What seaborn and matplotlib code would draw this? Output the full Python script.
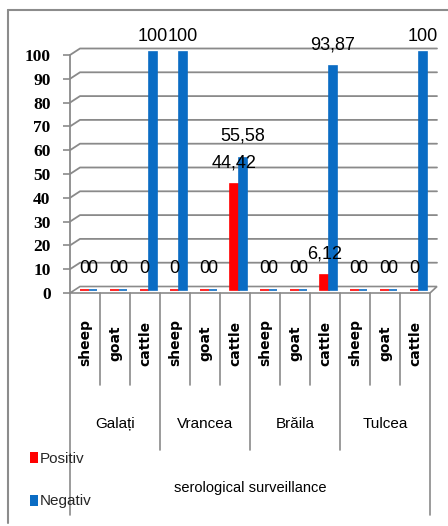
import matplotlib
matplotlib.use("Agg")
import matplotlib.pyplot as plt
from matplotlib.lines import Line2D
from matplotlib.patches import Rectangle, Polygon
import numpy as np
import pandas as pd
import seaborn as sns

# ---- data -------------------------------------------------------------
regions = ["Galați", "Vrancea", "Brăila", "Tulcea"]
species = ["sheep", "goat", "cattle"]
positiv = [0, 0, 0, 0, 0, 44.42, 0, 0, 6.12, 0, 0, 0]
negativ = [0, 0, 100, 100, 0, 55.58, 0, 0, 93.87, 0, 0, 100]
series = ["Positiv", "Negativ"]
y_ticks = list(range(0, 101, 10))
axis_title = "serological surveillance"

colors = {"Positiv": "#FF0000", "Negativ": "#0A6CC4"}
grid_c = "#8A8A8A"

sns.set_theme(style="white")
plt.rcParams["font.family"] = ["Liberation Sans", "DejaVu Sans"]

# ---- layout (pixels) ---------------------------------------------------
W, H = 448, 526
fig = plt.figure(figsize=(W / 100, H / 100), dpi=100)
fig.patch.set_facecolor("white")

x_left, x_right = 70, 440      # plot area, horizontal
y_floor, y_top = 293, 48       # front floor line and back-wall top
cat_px = 30                    # width of one category
unit_px = 2.38                 # pixels per value unit

ax = fig.add_axes([x_left / W, 1 - y_floor / H,
                   (x_right - x_left) / W, (y_floor - y_top) / H])


def frac(ypx):
    """Axes-fraction y for a figure pixel row (below the floor is negative)."""
    return (y_floor - ypx) / (y_floor - y_top)


n = len(positiv)
n_cat = len(species) * len(regions)
pos = np.arange(n) + 0.617
df = pd.DataFrame({
    "pos": np.concatenate([pos, pos]),
    "value": positiv + negativ,
    "status": [series[0]] * n + [series[1]] * n,
})

sns.barplot(data=df, x="pos", y="value", hue="status", hue_order=series,
            palette=colors, native_scale=True, width=0.54, dodge=True,
            errorbar=None, legend=False, saturation=1, ax=ax, zorder=3)

# bars stand in the middle of the floor depth; zero bars show as slivers
depth_lift = 1.3
for p in ax.patches:
    p.set_y(p.get_y() + depth_lift)
    p.set_edgecolor(p.get_facecolor())
    p.set_linewidth(1.2)

ax.set_xlim(0, (x_right - x_left) / cat_px)
ax.set_ylim(0, (y_floor - y_top) / unit_px)
ax.set_xlabel("")
ax.set_ylabel("")
for s in ax.spines.values():
    s.set_visible(False)
ax.grid(False)

# ---- 3-D style walls, floor and gridlines -------------------------------
dx = 10 / cat_px
dy = 6.5 / unit_px
x_back_right = (437 - x_left) / cat_px
floor = Polygon([(0, 0), (n_cat, 0), (x_back_right, dy), (dx, dy)],
                closed=True, facecolor="white", edgecolor=grid_c, lw=1.2,
                zorder=1, clip_on=False)
ax.add_patch(floor)
for v in y_ticks[1:]:
    ax.plot([0, dx, x_back_right], [v, v + dy, v + dy], color=grid_c,
            lw=1.3, zorder=0.5, clip_on=False)

ax.spines["left"].set_visible(True)
ax.spines["left"].set_color(grid_c)
ax.spines["left"].set_linewidth(1.3)
ax.spines["left"].set_bounds(0, 100)

ax.set_yticks(y_ticks)
ax.tick_params(axis="y", left=True, length=5, width=1.2, color=grid_c,
               direction="out", pad=9, labelsize=12.5, labelcolor="black")
for lbl in ax.get_yticklabels():
    lbl.set_family(["Liberation Serif", "DejaVu Serif"])
    lbl.set_fontweight("bold")

ax.set_xticks(np.arange(n_cat) + 0.5, labels=species * len(regions),
              rotation=90)
ax.tick_params(axis="x", bottom=False, length=0, pad=36, labelsize=10,
               labelcolor="black")
for lbl in ax.get_xticklabels():
    lbl.set_family(["DejaVu Sans"])
    lbl.set_fontweight("bold")
    lbl.set_va("center")

# ---- data labels ----------------------------------------------------------
label_gap = 8.5
label_cap = 105.9
for vals, off in ((positiv, -0.135), (negativ, 0.135)):
    for i, v in enumerate(vals):
        txt = f"{v:g}".replace(".", ",")
        ax.text(pos[i] + off, min(v + label_gap, label_cap), txt,
                ha="center", va="baseline", fontsize=13, color="black",
                zorder=6, clip_on=False)

# ---- multi-level category axis ---------------------------------------------
xt = ax.get_xaxis_transform()
line_kw = dict(color=grid_c, lw=1.2, clip_on=False, transform=xt)
for x in (0, n_cat):
    ax.add_line(Line2D([x, x], [0, frac(515)], **line_kw))
for x in range(1, n_cat):
    bottom = frac(450) if x % len(species) == 0 else frac(385)
    ax.add_line(Line2D([x, x], [0, bottom], **line_kw))

for r, name in enumerate(regions):
    ax.text(r * len(species) + 1.5, frac(424), name, transform=xt,
            ha="center", va="center", fontsize=11, color="black")

ax.text(6.0, frac(488), axis_title, transform=xt, ha="center",
        va="center", fontsize=10.5, color="black")

# ---- legend -----------------------------------------------------------------
handles = [Rectangle((0, 0), 1, 1, facecolor=colors[s], edgecolor="none")
           for s in series]
fig.legend(handles, series, loc="upper left",
           bbox_to_anchor=(30 / W, 1 - 452 / H), frameon=False,
           fontsize=11, handlelength=0.52, handleheight=0.72,
           handletextpad=0.15, labelspacing=1.86, borderpad=0,
           borderaxespad=0)

# ---- outer chart frame --------------------------------------------------------
frame_c = "#8C8C8C"
fig.add_artist(Line2D([8 / W, 8 / W], [1 - 10 / H, 1 - 523 / H],
                      color=frame_c, lw=1.5))
fig.add_artist(Line2D([8 / W, 1.0], [1 - 10 / H, 1 - 10 / H],
                      color=frame_c, lw=1.5))

fig.savefig("out.png", dpi=100, facecolor="white")
